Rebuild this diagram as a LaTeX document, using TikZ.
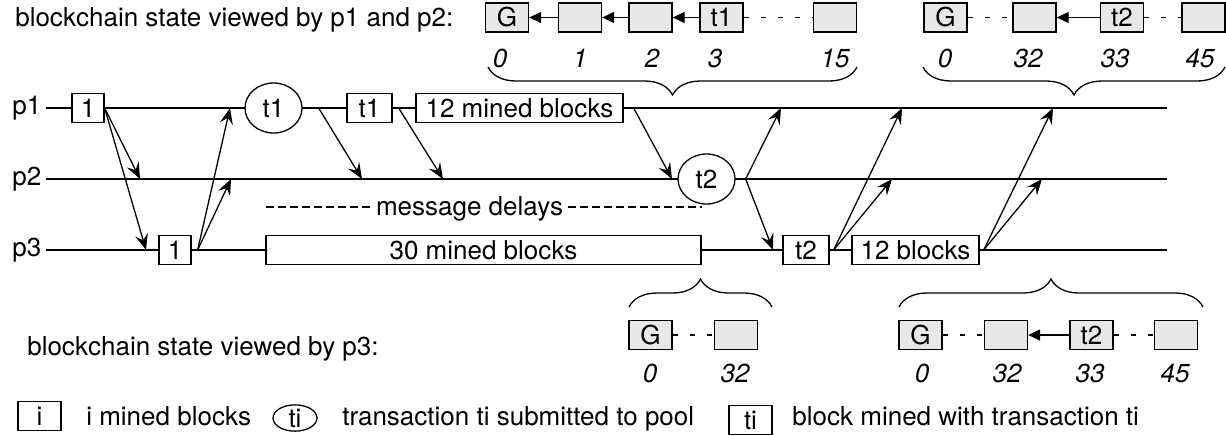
\documentclass[tikz,border=0pt]{standalone}
\usepackage{fontspec}
\setmainfont{TeX Gyre Heros}
\usetikzlibrary{arrows.meta}
\usetikzlibrary{shapes.geometric}
\usetikzlibrary{decorations.pathreplacing}

\tikzset{
  blk/.style={draw,fill=white,minimum height=14.5pt,inner sep=2pt},
  txn/.style={draw,ellipse,fill=white,minimum width=28.5pt,minimum height=25pt,inner sep=0pt},
  chn/.style={draw,fill=black!9,minimum width=21.5pt,minimum height=14.5pt,inner sep=0pt},
  idx/.style={font=\fontsize{13}{15}\selectfont\itshape},
  msg/.style={-{Stealth[length=8pt,width=6.5pt,inset=3pt]}},
  ptr/.style={-{Triangle[length=6pt,width=5.5pt]}},
  gap/.style={line width=0.9pt,dash pattern=on 2.5pt off 6pt},
  bracedown/.style={decorate,decoration={brace,mirror,amplitude=14pt}},
  braceup/.style={decorate,decoration={brace,amplitude=14pt}},
}

\begin{document}
\begin{tikzpicture}[x=0.5pt,y=-0.5pt,font=\fontsize{13}{15}\selectfont,line width=0.65pt]
    \path[use as bounding box] (0,0) rectangle (1226,435);
    % Timelines.
    \foreach \p/\y in {1/108,2/179,3/250} {
      \coordinate (s\p) at (46,\y);
      \coordinate (e\p) at (1167,\y);
      \node[anchor=base west] (lbl\p) at (5,\y+6) {p\p};
      \draw (s\p) -- (e\p);
    }
    % Events on p1.
    \node[blk,minimum width=16pt] (m1a) at (88,108) {1};
    \node[txn] (t1) at (273.5,108) {t1};
    \node[blk,minimum width=22.5pt] (m1b) at (369.5,108) {t1};
    \node[blk,minimum width=103.5pt] (m1c) at (519.5,108) {12 mined blocks};
    % Events on p2.
    \node[txn] (t2) at (706.5,179) {t2};
    % Events on p3.
    \node[blk,minimum width=16pt] (m3a) at (175,250) {1};
    \node[blk,minimum width=217.5pt] (m3b) at (483.5,250) {30 mined blocks};
    \node[blk,minimum width=23pt] (m3c) at (806,250) {t2};
    \node[blk,minimum width=63.5pt] (m3d) at (915.5,250) {12 blocks};
    % Message delays.
    \node[inner sep=2pt] (md) at (469.5,209) {message delays};
    \coordinate (dl) at (266,207);
    \coordinate (dr) at (702,207);
    \draw[dash pattern=on 4pt off 2pt] (dl) -- (dl -| md.west);
    \draw[dash pattern=on 4pt off 2pt] (md.east |- dr) -- (dr);
    % Messages.
    \foreach \n/\x/\y in {a/140/179,b/146/250,c/230/108,d/231/179,e/362/179,f/443/179,g/672/179,
                          h/781/108,i/773/250,j/902/108,k/892/179,l/1053/108,m/1042/179}
      \coordinate (r\n) at (\x,\y);
    \draw[msg] (m1a.east) -- (ra);
    \draw[msg] (m1a.east) -- (rb);
    \draw[msg] ([xshift=3pt]m3a.east) -- (rc);
    \draw[msg] ([xshift=3pt]m3a.east) -- (rd);
    \draw[msg] ([xshift=8pt]t1.east) -- (re);
    \draw[msg] ([xshift=3pt]m1b.east) -- (rf);
    \draw[msg] ([xshift=5pt]m1c.east) -- (rg);
    \draw[msg] ([xshift=5pt]t2.east) -- (rh);
    \draw[msg] ([xshift=5pt]t2.east) -- (ri);
    \draw[msg] ([xshift=2pt]m3c.east) -- (rj);
    \draw[msg] ([xshift=2pt]m3c.east) -- (rk);
    \draw[msg] ([xshift=2pt]m3d.east) -- (rl);
    \draw[msg] ([xshift=2pt]m3d.east) -- (rm);
    % Chains viewed by p1 and p2.
    \node[anchor=base west] (v12) at (8,26) {blockchain state viewed by p1 and p2:};
    \node[chn] (a0) at (507,17.5) {G};
    \node[chn] (a1) at (580,17.5) {};
    \node[chn] (a2) at (650.5,17.5) {};
    \node[chn] (a3) at (721.5,17.5) {t1};
    \node[chn] (a15) at (835,17.5) {};
    \draw[ptr] (a1) -- (a0);
    \draw[ptr] (a2) -- (a1);
    \draw[ptr] (a3) -- (a2);
    \draw[gap] (a3) -- (a15);
    \foreach \n/\x in {0/500,1/580,2/652,3/715,15/835}
      \node[idx] (ia\n) at (\x,58) {\n};
    \draw[bracedown] (488,67) -- (857,67);
    \node[chn] (b0) at (945.5,17.5) {G};
    \node[chn] (b32) at (1034.5,17.5) {};
    \node[chn] (b33) at (1122,17.5) {t2};
    \node[chn] (b45) at (1203.5,17.5) {};
    \draw[gap] (b0) -- (b32);
    \draw[ptr] (b33) -- (b32);
    \draw[gap] (b33) -- (b45);
    \foreach \n/\x in {0/945,32/1028,33/1115,45/1200}
      \node[idx] (ib\n) at (\x,58) {\n};
    \draw[bracedown] (923,67) -- (1225,67);
    % Chains viewed by p3.
    \node[anchor=base west] (v3) at (20,355) {blockchain state viewed by p3:};
    \draw[braceup] (629,307) -- (772,307);
    \node[chn] (c0) at (650.5,335) {G};
    \node[chn] (c32) at (736,335) {};
    \draw[gap] (c0) -- (c32);
    \foreach \n/\x in {0/650,32/735}
      \node[idx] (ic\n) at (\x,373) {\n};
    \draw[braceup] (899,307) -- (1203,307);
    \node[chn] (d0) at (920.5,335) {G};
    \node[chn] (d32) at (1006,335) {};
    \node[chn] (d33) at (1091.5,335) {t2};
    \node[chn] (d45) at (1176,335) {};
    \draw[gap] (d0) -- (d32);
    \draw[ptr] (d33) -- (d32);
    \draw[gap] (d33) -- (d45);
    \foreach \n/\x in {0/922,32/1007,33/1090,45/1175}
      \node[idx] (id\n) at (\x,373) {\n};
    % Legend.
    \node[blk,minimum width=21.5pt] (k1) at (39.5,416) {i};
    \node[anchor=base west] (kt1) at (79,425) {i mined blocks};
    \node[draw,ellipse,minimum width=22pt,minimum height=12pt,inner sep=0pt] (k2) at (295,418) {ti};
    \node[anchor=base west] (kt2) at (335,425) {transaction ti submitted to pool};
    \node[blk,minimum width=21.5pt] (k3) at (750.5,420) {ti};
    \node[anchor=base west] (kt3) at (785,425) {block mined with transaction ti};
  \end{tikzpicture}
\end{document}
